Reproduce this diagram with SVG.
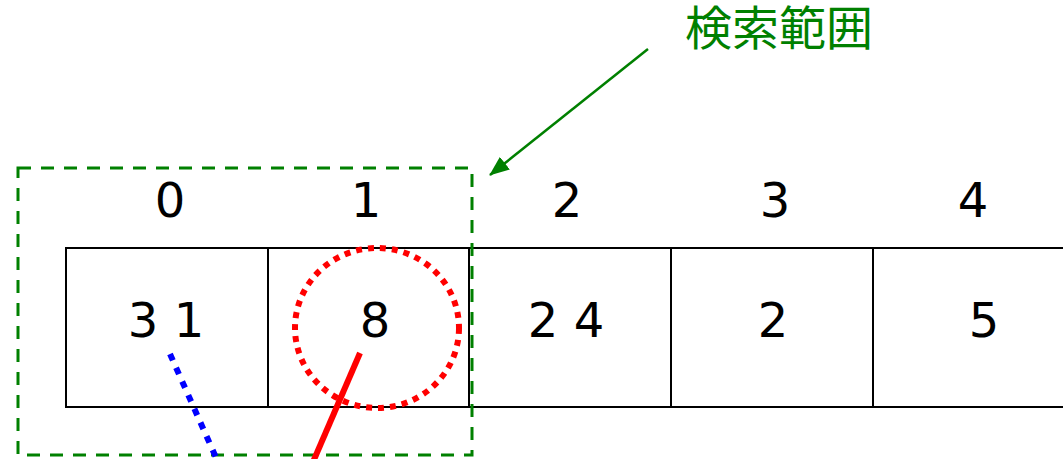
<svg xmlns="http://www.w3.org/2000/svg" width="1063" height="459" viewBox="0 0 1063 459">
<style>
.cell{fill:#fff;stroke:#000;stroke-width:2}
.num{font-family:"DejaVu Sans",Verdana,sans-serif;font-size:48px;fill:#000;text-anchor:middle}
</style>
<defs>
<marker id="ahg" viewBox="0 0 20 16" refX="19" refY="8" markerWidth="20" markerHeight="16" orient="auto" markerUnits="userSpaceOnUse">
<path d="M0,0 L20,8 L0,16 z" fill="#008000"/>
</marker>
</defs>
<rect width="1063" height="459" fill="#fff"/>
<g id="cells">
<g id="cell0"><rect class="cell" x="66" y="248" width="202" height="159"/><text class="num" x="166" y="337">3 1</text><text class="num" x="170" y="217">0</text></g>
<g id="cell1"><rect class="cell" x="268" y="248" width="201" height="159"/><text class="num" x="375" y="337">8</text><text class="num" x="366" y="217">1</text></g>
<g id="cell2"><rect class="cell" x="469" y="248" width="202" height="159"/><text class="num" x="566" y="337">2 4</text><text class="num" x="567" y="217">2</text></g>
<g id="cell3"><rect class="cell" x="671" y="248" width="202" height="159"/><text class="num" x="773" y="337">2</text><text class="num" x="775" y="217">3</text></g>
<g id="cell4"><rect class="cell" x="873" y="248" width="202" height="159"/><text class="num" x="984" y="337">5</text><text class="num" x="973" y="217">4</text></g>
</g>
<g id="highlight">
<ellipse cx="377" cy="328" rx="82" ry="80" fill="none" stroke="#ff0000" stroke-width="6" stroke-dasharray="6 6"/>
</g>
<g id="search-range">
<rect x="18" y="168" width="454" height="287" fill="none" stroke="#008000" stroke-width="3" stroke-dasharray="13 10"/>
<text x="685" y="45" font-family="'Noto Sans CJK JP',sans-serif" font-size="47" fill="#008000">検索範囲</text>
</g>
<g id="connectors">
<line x1="648" y1="49" x2="490" y2="175" stroke="#008000" stroke-width="2.5" marker-end="url(#ahg)"/>
<line x1="360" y1="353" x2="313" y2="462" stroke="#ff0000" stroke-width="6"/>
<line x1="170" y1="354" x2="218" y2="462" stroke="#0000ff" stroke-width="6" stroke-dasharray="7 8"/>
</g>
</svg>
